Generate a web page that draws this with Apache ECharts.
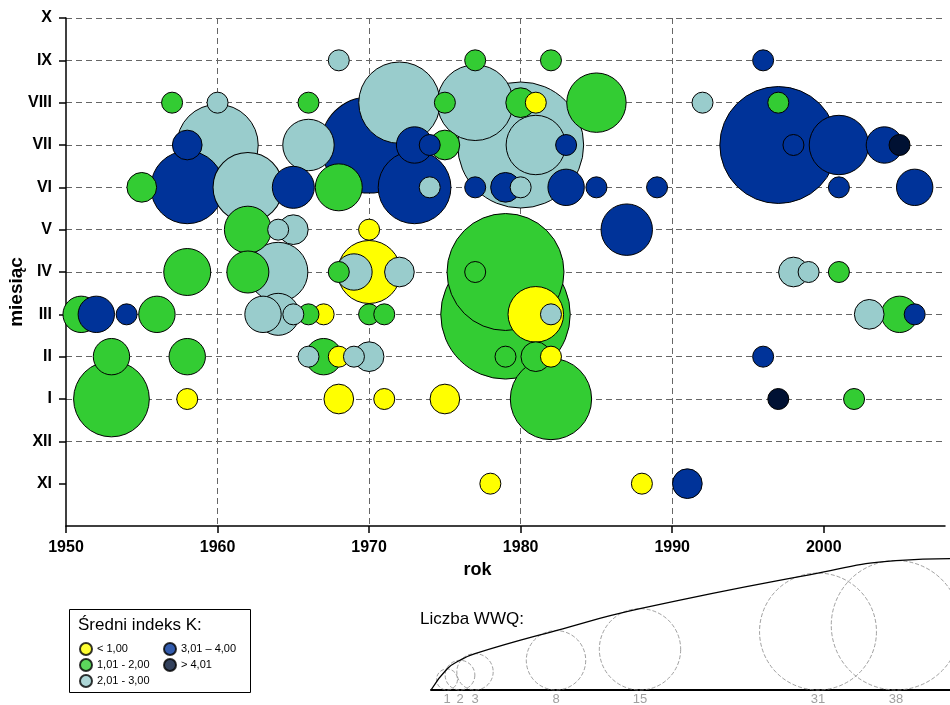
<!DOCTYPE html>
<html>
<head>
<meta charset="utf-8">
<script src="https://cdn.jsdelivr.net/npm/echarts@6/dist/echarts.min.js"></script>
<style>
  html, body { margin: 0; padding: 0; background: #fff; }
  #chart { width: 950px; height: 705px; }
</style>
</head>
<body>
<div id="chart"></div>
<script>
// Month axis: value 0 is an empty slot under XI, X sits at the top.
const monthLabels = ['', 'XI', 'XII', 'I', 'II', 'III', 'IV', 'V', 'VI', 'VII', 'VIII', 'IX', 'X'];
const yearTicks = [1950, 1960, 1970, 1980, 1990, 2000];

// Number of storms (WWQ) per [year, month, count], split by mean K index class.
const kBelow1 = [
  [1958, 'I', 1], [1967, 'III', 1], [1968, 'I', 2], [1968, 'II', 1], [1970, 'IV', 9],
  [1970, 'V', 1], [1971, 'I', 1], [1975, 'I', 2], [1978, 'XI', 1], [1981, 'VIII', 1],
  [1981, 'III', 7], [1982, 'II', 1], [1988, 'XI', 1]
];
const k1to2 = [
  [1951, 'III', 3], [1953, 'II', 3], [1953, 'I', 13], [1955, 'VI', 2], [1956, 'III', 3],
  [1957, 'VIII', 1], [1958, 'IV', 5], [1958, 'II', 3], [1962, 'V', 5], [1962, 'IV', 4],
  [1966, 'VIII', 1], [1966, 'III', 1], [1967, 'II', 3], [1968, 'VI', 5], [1968, 'IV', 1],
  [1970, 'III', 1], [1971, 'III', 1], [1975, 'VIII', 1], [1975, 'VII', 2], [1977, 'IX', 1],
  [1977, 'IV', 1], [1979, 'IV', 31], [1979, 'III', 38], [1979, 'II', 1], [1980, 'VIII', 2],
  [1981, 'II', 2], [1982, 'IX', 1], [1982, 'I', 15], [1985, 'VIII', 8], [1997, 'VIII', 1],
  [2001, 'IV', 1], [2002, 'I', 1], [2005, 'III', 3]
];
const k2to3 = [
  [1960, 'VIII', 1], [1960, 'VII', 15], [1962, 'VI', 11], [1963, 'III', 3], [1964, 'V', 1],
  [1964, 'IV', 8], [1964, 'III', 4], [1965, 'V', 2], [1965, 'III', 1], [1966, 'VII', 6],
  [1966, 'II', 1], [1968, 'IX', 1], [1969, 'IV', 3], [1969, 'II', 1], [1970, 'II', 2],
  [1972, 'VIII', 15], [1972, 'IV', 2], [1974, 'VI', 1], [1977, 'VIII', 13], [1980, 'VII', 36],
  [1980, 'VI', 1], [1981, 'VII', 8], [1982, 'III', 1], [1992, 'VIII', 1], [1998, 'IV', 2],
  [1999, 'IV', 1], [2003, 'III', 2]
];
const k3to4 = [
  [1952, 'III', 3], [1954, 'III', 1], [1958, 'VII', 2], [1958, 'VI', 12], [1965, 'VI', 4],
  [1970, 'VII', 21], [1973, 'VII', 3], [1973, 'VI', 12], [1974, 'VII', 1], [1977, 'VI', 1],
  [1979, 'VI', 2], [1983, 'VII', 1], [1983, 'VI', 3], [1985, 'VI', 1], [1987, 'V', 6],
  [1989, 'VI', 1], [1991, 'XI', 2], [1996, 'IX', 1], [1996, 'II', 1], [1997, 'VII', 31],
  [1998, 'VII', 1], [2001, 'VII', 8], [2001, 'VI', 1], [2004, 'VII', 3], [2006, 'VI', 3],
  [2006, 'III', 1]
];
const kAbove4 = [[1997, 'I', 1], [2005, 'VII', 1]];

const classNames = ['< 1,00', '1,01 - 2,00', '2,01 - 3,00', '3,01 – 4,00', '> 4,01'];
const sizeKeyCounts = [1, 2, 3, 8, 15, 31, 38];

// ---- styling / layout ----
const classColors = ['#ffff00', '#33cc33', '#99cccc', '#003399', '#001133'];
const FONT = '"Liberation Sans", Arial, sans-serif';
const BUBBLE_K = 21;                       // diameter of a one-storm bubble, px
const bubbleSize = n => BUBBLE_K * Math.sqrt(n);
const keyWidth = 519, keyHeight = 150;     // size-key panel, 1 axis unit = 1 px
const sizeKeyCenters = [16, 29, 44, 125, 209, 387, 465];

const groups = [kBelow1, k1to2, k2to3, k3to4, kAbove4];
const points = [];
groups.forEach((g, ci) => g.forEach(([yr, m, n]) => {
  points.push({ value: [yr, monthLabels.indexOf(m), n], itemStyle: { color: classColors[ci] } });
}));
// big bubbles first so the small ones stay visible on top
points.sort((a, b) => b.value[2] - a.value[2]);

const keyCircles = sizeKeyCounts.map((n, i) => [sizeKeyCenters[i], bubbleSize(n) / 2, n]);
const keyEnvelope = [[0, 0]].concat(
  sizeKeyCounts.map((n, i) => [sizeKeyCenters[i], bubbleSize(n)]),
  [[keyWidth, bubbleSize(sizeKeyCounts[sizeKeyCounts.length - 1]) + 2]]
);

const legendSeries = classNames.map((name, i) => ({
  name, type: 'scatter', data: [], xAxisIndex: 0, yAxisIndex: 0,
  itemStyle: { color: classColors[i], borderColor: '#000', borderWidth: 1 }
}));

const legendCommon = {
  orient: 'vertical', icon: 'circle', itemWidth: 12, itemHeight: 12, itemGap: 2,
  padding: 0, selectedMode: false,
  textStyle: { fontSize: 11, color: '#000', fontFamily: FONT }
};

const chart = echarts.init(document.getElementById('chart'), null, { renderer: 'canvas' });
chart.setOption({
  animation: false,
  backgroundColor: '#fff',
  textStyle: { fontFamily: FONT },
  title: [
    { text: 'Średni indeks K:', left: 78, top: 617, padding: 0,
      textStyle: { fontSize: 17, fontWeight: 'normal', color: '#000', fontFamily: FONT } },
    { text: 'Liczba WWQ:', left: 420, top: 611, padding: 0,
      textStyle: { fontSize: 17, fontWeight: 'normal', color: '#000', fontFamily: FONT } }
  ],
  legend: [
    Object.assign({ data: classNames.slice(0, 3), left: 79, top: 642 }, legendCommon),
    Object.assign({ data: classNames.slice(3), left: 163, top: 642 }, legendCommon)
  ],
  graphic: [{
    type: 'rect', z: -1,
    shape: { x: 69.5, y: 609.5, width: 181, height: 83 },
    style: { fill: '#fff', stroke: '#000', lineWidth: 1 }
  }],
  grid: [
    { left: 66, right: 5, top: 18, bottom: 179, containLabel: false, outerBoundsMode: 'none' },
    { left: 431, top: 540, width: keyWidth, height: keyHeight, containLabel: false, outerBoundsMode: 'none' }
  ],
  xAxis: [{
    type: 'value', gridIndex: 0, min: 1950, max: 2008, interval: 10,
    name: 'rok', nameLocation: 'middle', nameGap: 32,
    nameTextStyle: { fontSize: 18, fontWeight: 'bold', color: '#000', fontFamily: FONT, padding: [0, 56, 0, 0] },
    axisLine: { show: true, lineStyle: { color: '#000', width: 1.5 } },
    axisTick: { show: true, length: 7, customValues: yearTicks, lineStyle: { color: '#000', width: 1.5 } },
    axisLabel: { customValues: yearTicks, formatter: v => String(v), margin: 14,
      fontSize: 16, fontWeight: 'bold', color: '#000', fontFamily: FONT },
    splitLine: { show: true, showMinLine: false, showMaxLine: false,
      lineStyle: { color: '#666', width: 1, type: [6, 4] } }
  }, {
    type: 'value', gridIndex: 1, min: 0, max: keyWidth,
    axisLine: { show: true, onZero: false, lineStyle: { color: '#000', width: 2 } },
    axisTick: { show: false }, axisLabel: { show: false }, splitLine: { show: false }
  }],
  yAxis: [{
    type: 'value', gridIndex: 0, min: 0, max: 12, interval: 1,
    name: 'miesiąc', nameLocation: 'middle', nameGap: 40, nameMoveOverlap: false,
    nameTextStyle: { fontSize: 19, fontWeight: 'bold', color: '#000', fontFamily: FONT, padding: [0, 40, 0, 0] },
    axisLine: { show: true, lineStyle: { color: '#000', width: 1.5 } },
    axisTick: { show: true, length: 7, customValues: [1, 2, 3, 4, 5, 6, 7, 8, 9, 10, 11, 12],
      lineStyle: { color: '#000', width: 1.5 } },
    axisLabel: { customValues: [1, 2, 3, 4, 5, 6, 7, 8, 9, 10, 11, 12], formatter: v => monthLabels[v],
      margin: 14, fontSize: 16, fontWeight: 'bold', color: '#000', fontFamily: FONT },
    splitLine: { show: true, showMinLine: false,
      lineStyle: { color: '#666', width: 1, type: [6, 4] } }
  }, {
    type: 'value', gridIndex: 1, min: 0, max: keyHeight, show: false
  }],
  series: [{
    name: 'WWQ', type: 'scatter', xAxisIndex: 0, yAxisIndex: 0,
    data: points,
    symbolSize: v => bubbleSize(v[2]),
    itemStyle: { borderColor: '#000', borderWidth: 1, opacity: 1 },
    emphasis: { disabled: true }, silent: true
  }, {
    name: 'key', type: 'scatter', xAxisIndex: 1, yAxisIndex: 1,
    data: keyCircles, clip: false,
    symbolSize: v => bubbleSize(v[2]),
    itemStyle: { color: 'rgba(0,0,0,0)', borderColor: '#888', borderWidth: 1, borderType: [4, 2] },
    label: { show: true, position: 'bottom', distance: 2, formatter: p => p.value[2],
      color: '#888', fontSize: 13, fontFamily: FONT },
    emphasis: { disabled: true }, silent: true
  }, {
    name: 'envelope', type: 'line', xAxisIndex: 1, yAxisIndex: 1,
    data: keyEnvelope, smooth: 0.5, symbol: 'none', clip: false,
    lineStyle: { color: '#000', width: 1.3 }, silent: true
  }].concat(legendSeries)
});
</script>
</body>
</html>
